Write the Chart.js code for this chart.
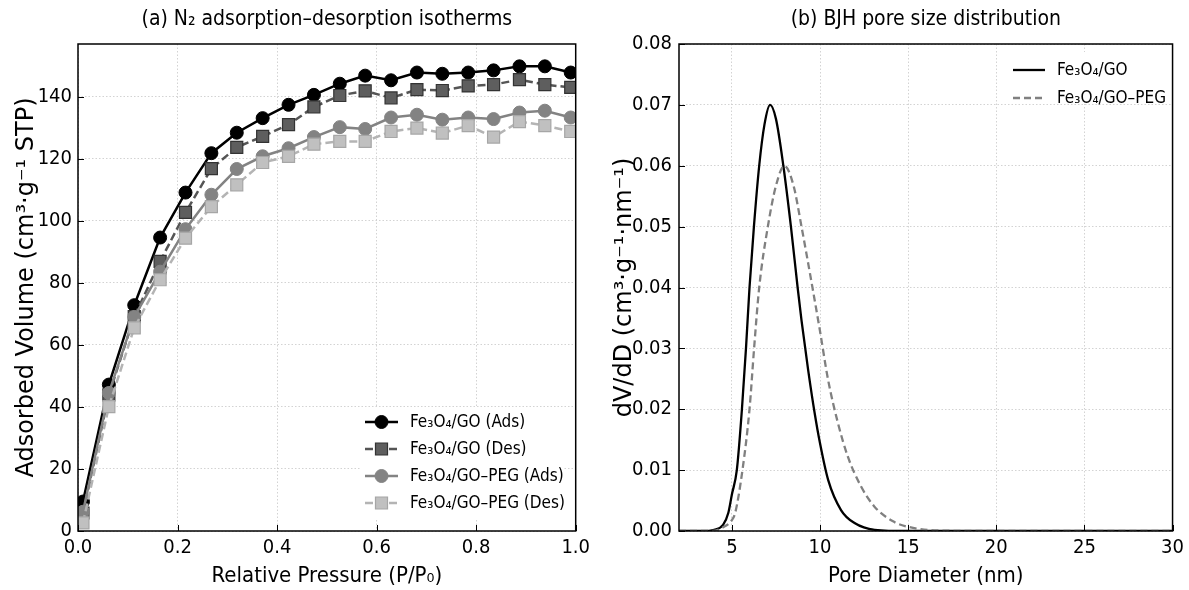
<!DOCTYPE html>
<html>
<head>
<meta charset="utf-8">
<script src="https://cdn.jsdelivr.net/npm/chart.js@4.4.1/dist/chart.umd.min.js"></script>
<style>
  body { margin: 0; background: #fff; }
  #wrap { position: relative; width: 1189px; height: 590px; }
  canvas { position: absolute; top: 0; }
</style>
</head>
<body>
<div id="wrap">
  <canvas id="isoChart" width="595" height="590" style="left:0"></canvas>
  <canvas id="poreChart" width="594" height="590" style="left:595px"></canvas>
</div>
<script>
/* data */
const pressure = [0.01, 0.062, 0.113, 0.165, 0.216, 0.268, 0.319, 0.371, 0.423, 0.474,
  0.526, 0.577, 0.629, 0.681, 0.732, 0.784, 0.835, 0.887, 0.938, 0.99];
const goAds = [9.5, 47.2, 72.8, 94.6, 109.1, 121.8, 128.4, 133.1, 137.4, 140.6,
  144.2, 146.8, 145.3, 147.8, 147.4, 147.8, 148.5, 149.8, 149.8, 147.8];
const goDes = [5.8, 43.9, 69.1, 86.9, 102.7, 116.8, 123.7, 127.2, 131.0, 136.7,
  140.4, 141.9, 139.6, 142.3, 142.0, 143.5, 143.9, 145.5, 143.9, 143.0];
const pegAds = [6.2, 44.5, 69.0, 83.6, 97.3, 108.4, 116.7, 120.8, 123.4, 127.0,
  130.2, 129.6, 133.3, 134.2, 132.6, 133.3, 132.8, 134.9, 135.5, 133.3];
const pegDes = [2.6, 40.1, 65.5, 81.0, 94.4, 104.6, 111.6, 118.8, 120.8, 124.7,
  125.6, 125.6, 128.8, 129.9, 128.3, 130.7, 127.0, 132.0, 130.7, 128.8];

const poreGoD = [2, 3.3, 4.0, 4.5, 4.8, 5.0, 5.28, 5.57, 5.8, 6.0, 6.25, 6.55, 6.85, 7.17, 7.5,
  7.92, 8.35, 8.73, 8.95, 9.33, 9.7, 10.0, 10.46, 11.2, 11.96, 13.1, 15, 20, 30];
const poreGoV = [0, 0, 0.0002, 0.001, 0.003, 0.006, 0.01, 0.02, 0.03, 0.04, 0.05, 0.06, 0.0668, 0.07, 0.0677,
  0.06, 0.05, 0.04, 0.0346, 0.0264, 0.0193, 0.0144, 0.0084, 0.0034, 0.0013, 0.0002, 0, 0, 0];
const porePegD = [2, 3.9, 4.5, 5.0, 5.19, 5.6, 6.0, 6.26, 6.55, 7.04, 7.5, 7.98, 8.5, 8.95, 9.51,
  9.99, 10.46, 11.02, 11.58, 12.33, 13.09, 14.2, 14.97, 16.5, 20, 30];
const porePegV = [0, 0, 0.0006, 0.0018, 0.003, 0.01, 0.02, 0.03, 0.04, 0.05, 0.0567, 0.06, 0.0567, 0.05, 0.041,
  0.033, 0.0248, 0.0177, 0.0122, 0.0073, 0.004, 0.0015, 0.0007, 0.0001, 0, 0];

const isoXTicks = [0, 0.2, 0.4, 0.6, 0.8, 1.0];
const isoYTicks = [0, 20, 40, 60, 80, 100, 120, 140];
const poreXTicks = [5, 10, 15, 20, 25, 30];
const poreYTicks = [0, 0.01, 0.02, 0.03, 0.04, 0.05, 0.06, 0.07, 0.08];

const narrow = "'Liberation Sans Narrow', 'DejaVu Sans Condensed', sans-serif";
const wide = "'DejaVu Sans', sans-serif";

const pairs = (xs, ys) => xs.map((x, i) => ({x: x, y: ys[i]}));
const fixTicks = (list) => (scale) => { scale.ticks = list.map(v => ({value: v})); };

/* frame + inward ticks, like the matplotlib original */
const frameTicks = {
  id: 'frameTicks',
  afterDraw(chart) {
    const {ctx, chartArea: a, scales} = chart;
    ctx.save();
    ctx.strokeStyle = '#000';
    ctx.lineWidth = 1;
    ctx.beginPath();
    for (const t of scales.x.ticks) {
      const px = Math.round(scales.x.getPixelForValue(t.value)) + 0.5;
      ctx.moveTo(px, a.bottom);
      ctx.lineTo(px, a.bottom - 6);
    }
    for (const t of scales.y.ticks) {
      const py = Math.round(scales.y.getPixelForValue(t.value)) + 0.5;
      ctx.moveTo(a.left, py);
      ctx.lineTo(a.left + 6, py);
    }
    ctx.stroke();
    ctx.lineWidth = 1.5;
    ctx.strokeRect(a.left, a.top, a.right - a.left, a.bottom - a.top);
    ctx.restore();
  }
};

const panelTitle = {
  id: 'panelTitle',
  afterDraw(chart, args, opts) {
    const {ctx, chartArea: a} = chart;
    ctx.save();
    ctx.font = '21px ' + narrow;
    ctx.fillStyle = '#000';
    ctx.textAlign = 'center';
    ctx.textBaseline = 'middle';
    ctx.fillText(opts.text, (a.left + a.right) / 2, 20);
    ctx.restore();
  }
};

/* legend box inside the plot */
const boxLegend = {
  id: 'boxLegend',
  afterDatasetsDraw(chart, args, opts) {
    const {ctx} = chart;
    ctx.save();
    ctx.fillStyle = '#fff';
    ctx.fillRect(opts.box[0], opts.box[1], opts.box[2], opts.box[3]);
    chart.data.datasets.forEach((ds, i) => {
      const y = opts.top + i * opts.step;
      ctx.strokeStyle = ds.borderColor;
      ctx.lineWidth = ds.borderWidth;
      ctx.setLineDash(ds.borderDash || []);
      ctx.beginPath();
      ctx.moveTo(opts.x0, y);
      ctx.lineTo(opts.x1, y);
      ctx.stroke();
      ctx.setLineDash([]);
      const mx = (opts.x0 + opts.x1) / 2;
      const r = ds.pointRadius;
      if (r) {
        ctx.fillStyle = ds.pointBackgroundColor;
        ctx.strokeStyle = ds.pointBorderColor;
        ctx.lineWidth = ds.pointBorderWidth;
        ctx.beginPath();
        if (ds.pointStyle === 'rect') {
          const h = r * Math.SQRT1_2;
          ctx.rect(mx - h, y - h, 2 * h, 2 * h);
        } else {
          ctx.arc(mx, y, r, 0, Math.PI * 2);
        }
        ctx.fill();
        ctx.stroke();
      }
      ctx.fillStyle = '#000';
      ctx.font = opts.size + 'px ' + narrow;
      ctx.textBaseline = 'middle';
      ctx.fillText(ds.label, opts.textX, y + 1);
    });
    ctx.restore();
  }
};

Chart.defaults.font.family = narrow;
Chart.defaults.color = '#000';
Chart.defaults.animation = false;

const gridOpts = {color: '#c8c8c8', lineWidth: 0.8, drawTicks: false};
const borderOpts = {display: false, dash: [1.5, 2]};

/* (a) isotherms */
new Chart(document.getElementById('isoChart'), {
  type: 'line',
  data: {
    datasets: [
      {label: 'Fe₃O₄/GO (Ads)', data: pairs(pressure, goAds), borderColor: '#000', borderWidth: 2.5,
        pointStyle: 'circle', pointRadius: 6.5, pointBackgroundColor: '#000', pointBorderColor: '#000',
        pointBorderWidth: 1, order: 4},
      {label: 'Fe₃O₄/GO (Des)', data: pairs(pressure, goDes), borderColor: '#555', borderWidth: 2.5,
        borderDash: [8, 4], pointStyle: 'rect', pointRadius: 8.5, pointBackgroundColor: '#5e5e5e',
        pointBorderColor: '#333', pointBorderWidth: 1.2, order: 3},
      {label: 'Fe₃O₄/GO–PEG (Ads)', data: pairs(pressure, pegAds), borderColor: '#838383', borderWidth: 2.5,
        pointStyle: 'circle', pointRadius: 6.5, pointBackgroundColor: '#838383', pointBorderColor: '#838383',
        pointBorderWidth: 1, order: 2},
      {label: 'Fe₃O₄/GO–PEG (Des)', data: pairs(pressure, pegDes), borderColor: '#b4b4b4', borderWidth: 2.5,
        borderDash: [8, 4], pointStyle: 'rect', pointRadius: 8.5, pointBackgroundColor: '#c0c0c0',
        pointBorderColor: '#a6a6a6', pointBorderWidth: 1.2, order: 1}
    ]
  },
  options: {
    responsive: false,
    layout: {padding: {top: 44, right: 19, left: 0, bottom: 0}},
    plugins: {
      legend: {display: false},
      tooltip: {enabled: false},
      panelTitle: {text: '(a) N₂ adsorption–desorption isotherms'},
      boxLegend: {box: [360, 408, 203, 111], top: 422, step: 27, x0: 365, x1: 398, textX: 410, size: 17}
    },
    scales: {
      x: {
        type: 'linear', min: 0, max: 1,
        afterBuildTicks: fixTicks(isoXTicks),
        afterFit: (s) => { s.height = 59; },
        grid: gridOpts, border: borderOpts,
        ticks: {font: {size: 20}, padding: 5, callback: (v) => v.toFixed(1)},
        title: {display: true, text: 'Relative Pressure (P/P₀)', font: {size: 22}, padding: {top: 0, bottom: 1}}
      },
      y: {
        type: 'linear', min: 0, max: 157,
        afterBuildTicks: fixTicks(isoYTicks),
        afterFit: (s) => { s.width = 78; },
        grid: gridOpts, border: borderOpts,
        ticks: {font: {size: 20}, padding: 6},
        title: {display: true, text: 'Adsorbed Volume (cm³·g⁻¹ STP)', font: {size: 24, family: wide},
          padding: {top: 12, bottom: 0}}
      }
    }
  },
  plugins: [boxLegend, frameTicks, panelTitle]
});

/* (b) BJH */
new Chart(document.getElementById('poreChart'), {
  type: 'line',
  data: {
    datasets: [
      {label: 'Fe₃O₄/GO', data: pairs(poreGoD, poreGoV), borderColor: '#000', borderWidth: 2.3,
        pointRadius: 0, cubicInterpolationMode: 'monotone', order: 2},
      {label: 'Fe₃O₄/GO–PEG', data: pairs(porePegD, porePegV), borderColor: '#808080', borderWidth: 2.3,
        borderDash: [7, 4], pointRadius: 0, cubicInterpolationMode: 'monotone', order: 1}
    ]
  },
  options: {
    responsive: false,
    layout: {padding: {top: 44, right: 13, left: 0, bottom: 0}},
    plugins: {
      legend: {display: false},
      tooltip: {enabled: false},
      panelTitle: {text: '(b) BJH pore size distribution'},
      boxLegend: {box: [405, 52, 170, 52], top: 70, step: 28, x0: 418, x1: 450, textX: 462, size: 17}
    },
    scales: {
      x: {
        type: 'linear', min: 2, max: 30,
        afterBuildTicks: fixTicks(poreXTicks),
        afterFit: (s) => { s.height = 59; },
        grid: gridOpts, border: borderOpts,
        ticks: {font: {size: 20}, padding: 5},
        title: {display: true, text: 'Pore Diameter (nm)', font: {size: 22}, padding: {top: 0, bottom: 1}}
      },
      y: {
        type: 'linear', min: 0, max: 0.08,
        afterBuildTicks: fixTicks(poreYTicks),
        afterFit: (s) => { s.width = 84; },
        grid: gridOpts, border: borderOpts,
        ticks: {font: {size: 20}, padding: 7, callback: (v) => v.toFixed(2)},
        title: {display: true, text: 'dV/dD (cm³·g⁻¹·nm⁻¹)', font: {size: 24, family: wide},
          padding: {top: 15, bottom: 0}}
      }
    }
  },
  plugins: [boxLegend, frameTicks, panelTitle]
});
</script>
</body>
</html>
